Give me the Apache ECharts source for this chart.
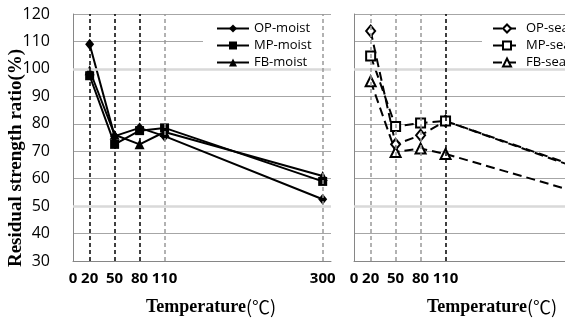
<!DOCTYPE html>
<html>
<head>
<meta charset="utf-8">
<script src="https://cdn.jsdelivr.net/npm/echarts@6/dist/echarts.min.js"></script>
<style>
  html, body { margin: 0; padding: 0; background: #fff; }
  #main { width: 565px; height: 322px; }
</style>
</head>
<body>
<div id="main"></div>
<script>
// temperatures (°C) and residual strength ratio (%)
const temps = [20, 50, 80, 110, 300];
const opMoist = [109, 75.5, 78.5, 75.5, 52.5];
const mpMoist = [97.5, 72.5, 77.5, 78.5, 59];
const fbMoist = [99.5, 76, 72.5, 77, 61];
const opSea = [113.8, 72.5, 75.8, 81, 60.5];
const mpSea = [104.7, 79, 80.3, 81, 61];
const fbSea = [95.5, 69.7, 71, 69, 52.3];
const xTickLabels = [0, 20, 50, 80, 110, 300];
const yMin = 30, yMax = 120, yStep = 10;

const pairs = vals => temps.map((t, i) => [t, vals[i]]);

const GRAY = '#a6a6a6';
const LIGHT = '#d9d9d9';

function xAxisCfg(idx) {
  return {
    type: 'value', gridIndex: idx, min: 0, max: 310, interval: 10,
    axisLine: { lineStyle: { color: '#868686' } },
    axisTick: { show: false },
    splitLine: { show: false },
    axisLabel: {
      margin: 10,
      fontFamily: 'Open Sans', fontWeight: 'bold', fontSize: 15, color: '#000',
      formatter: v => xTickLabels.indexOf(v) >= 0 ? String(v) : ''
    }
  }
}

function yAxisCfg(idx, showLabels) {
  return {
    type: 'value', gridIndex: idx, min: yMin, max: yMax, interval: yStep,
    axisLine: { show: true, lineStyle: { color: '#868686' } },
    axisTick: { show: false },
    splitLine: { lineStyle: { color: [GRAY, GRAY, LIGHT, GRAY, GRAY], width: 1 } },
    axisLabel: {
      show: showLabels, margin: 23,
      fontFamily: 'Open Sans', fontSize: 16, color: '#000'
    }
  }
}

// guide lines (vertical dashed ones + the lighter 50/100 lines)
function guides(idx, blackAt, grayAt, z) {
  const data = [];
  blackAt.forEach(v => data.push({ xAxis: v, lineStyle: { color: '#000', type: [4, 3], width: 1.5 } }));
  grayAt.forEach(v => data.push({ xAxis: v, lineStyle: { color: '#999', type: [4, 3], width: 1.5 } }));
  return {
    type: 'line', xAxisIndex: idx, yAxisIndex: idx, data: [], z: z, silent: true,
    markLine: { symbol: ['none', 'none'], label: { show: false }, silent: true, animation: false, data: data }
  }
}

function hGuides(idx) {
  return {
    type: 'line', xAxisIndex: idx, yAxisIndex: idx, data: [], z: 1, silent: true,
    markLine: {
      symbol: ['none', 'none'], label: { show: false }, silent: true, animation: false,
      lineStyle: { color: LIGHT, type: 'solid', width: 2.5 },
      data: [{ yAxis: 50 }, { yAxis: 100 }]
    }
  }
}

function moist(name, vals, symbol, size) {
  return {
    name: name, type: 'line', xAxisIndex: 0, yAxisIndex: 0, z: 3,
    data: pairs(vals), symbol: symbol, symbolSize: size,
    lineStyle: { color: '#000', width: 2 },
    itemStyle: { color: '#000' }
  }
}

function sea(name, vals, symbol, size) {
  return {
    name: name, type: 'line', xAxisIndex: 1, yAxisIndex: 1, z: 3,
    data: pairs(vals), symbol: symbol, symbolSize: size,
    lineStyle: { color: '#000', width: 2, type: [9, 5] },
    itemStyle: { color: '#000', borderColor: '#000', borderWidth: 2 }
  }
}

const legendText = { fontFamily: 'Open Sans', fontSize: 13, color: '#000', lineHeight: 13 };

const axisTitle = {
  a: { fontFamily: 'Liberation Serif', fontWeight: 'bold', fontSize: 18, fill: '#000' },
  b: { fontFamily: 'Noto Sans CJK SC', fontSize: 18, fill: '#000' }
};

const chart = echarts.init(document.getElementById('main'));
chart.setOption({
  animation: false,
  backgroundColor: '#fff',
  grid: [
    { left: 73, top: 14, width: 258, height: 247, outerBoundsMode: 'none' },
    { left: 354, top: 14, width: 258, height: 247, outerBoundsMode: 'none' }
  ],
  xAxis: [xAxisCfg(0), xAxisCfg(1)],
  yAxis: [yAxisCfg(0, true), yAxisCfg(1, false)],
  legend: [
    {
      data: ['OP-moist', 'MP-moist', 'FB-moist'],
      orient: 'vertical', left: 203, top: 16,
      padding: [6, 22, 6, 13], backgroundColor: '#fff', z: 4,
      itemWidth: 32, itemHeight: 10, itemGap: 4,
      textStyle: legendText
    },
    {
      data: ['OP-seawater', 'MP-seawater', 'FB-seawater'],
      orient: 'vertical', left: 482, top: 16,
      padding: [6, 22, 6, 10], backgroundColor: '#fff', z: 4,
      itemWidth: 28, itemHeight: 10, itemGap: 4,
      textStyle: legendText
    }
  ],
  graphic: [
    {
      type: 'text', x: 16, y: 158, rotation: Math.PI / 2,
      style: {
        text: 'Residual strength ratio(%)', align: 'center', verticalAlign: 'middle',
        font: 'bold 19px "Liberation Serif"', fill: '#000'
      }
    },
    {
      type: 'text', x: 211, y: 307,
      style: { text: '{a|Temperature}{b|(℃)}', align: 'center', verticalAlign: 'middle', rich: axisTitle }
    },
    {
      type: 'text', x: 492, y: 307,
      style: { text: '{a|Temperature}{b|(℃)}', align: 'center', verticalAlign: 'middle', rich: axisTitle }
    }
  ],
  series: [
    hGuides(0),
    hGuides(1),
    guides(0, [20, 50, 80], [110], 1),
    guides(0, [], [300], 5),
    guides(1, [110], [20, 50, 80], 1),
    moist('OP-moist', opMoist, 'diamond', [9, 11]),
    moist('MP-moist', mpMoist, 'rect', 9),
    moist('FB-moist', fbMoist, 'triangle', 10),
    sea('OP-seawater', opSea, 'emptyDiamond', [9, 11]),
    sea('MP-seawater', mpSea, 'emptyRect', 9),
    sea('FB-seawater', fbSea, 'emptyTriangle', 10)
  ]
});
</script>
</body>
</html>
